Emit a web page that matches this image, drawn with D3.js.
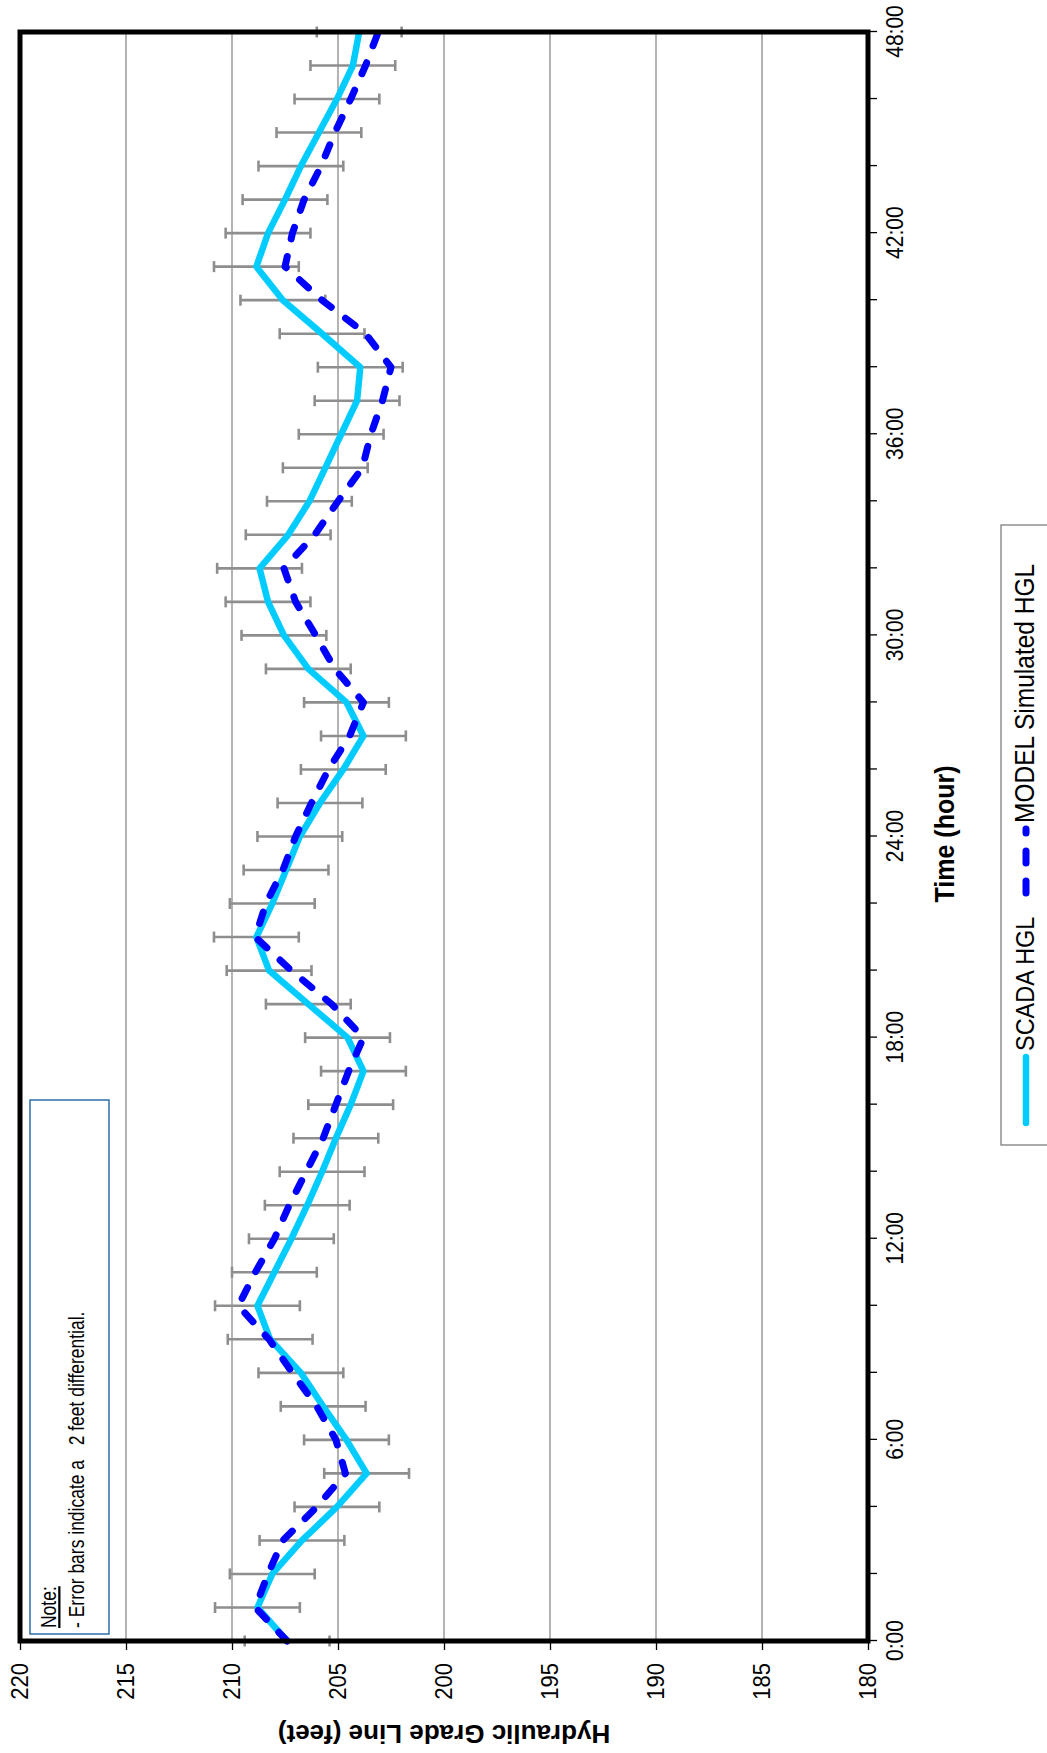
<!DOCTYPE html>
<html><head><meta charset="utf-8">
<script src="https://cdn.jsdelivr.net/npm/d3@7"></script>
<style>body{margin:0;background:#fff;} svg{display:block;font-family:"Liberation Sans",Arial,sans-serif;}</style>
</head><body><svg id="c" width="1047" height="1753"></svg>
<script>
// ---- data ----
const hours = [0,1,2,3,4,5,6,7,8,9,10,11,12,13,14,15,16,17,18,19,20,21,22,23,24,25,26,27,28,29,30,31,32,33,34,35,36,37,38,39,40,41,42,43,44,45,46,47,48];
const scadaHGL = [207.4,208.8,208.1,206.7,205.05,203.65,204.6,205.7,206.75,208.2,208.8,208.0,207.2,206.45,205.75,205.1,204.4,203.8,204.55,206.4,208.25,208.85,208.1,207.45,206.8,205.85,204.75,203.8,204.6,206.4,207.55,208.3,208.7,207.35,206.35,205.6,204.85,204.1,203.95,205.75,207.6,208.85,208.3,207.5,206.75,205.9,205.05,204.3,204.0];
const modelHGL = [207.4,208.9,208.3,207.6,206.0,204.65,205.1,206.0,207.15,208.25,209.7,208.9,208.0,207.3,206.5,205.7,205.1,204.5,203.8,205.3,207.2,208.9,208.4,207.6,207.0,206.25,205.45,204.45,203.8,205.15,206.05,207.0,207.55,206.1,205.0,203.85,203.45,202.9,202.5,203.7,205.75,207.5,207.15,206.6,205.8,205.15,204.4,203.7,203.1];
const errorFeet = 2;
const hglTicks = [180,185,190,195,200,205,210,215,220];
const timeMinorTicks = [0,2,4,6,8,10,12,14,16,18,20,22,24,26,28,30,32,34,36,38,40,42,44,46,48];
const timeMajorTicks = [0,6,12,18,24,30,36,42,48];
const timeLabels = ["0:00","6:00","12:00","18:00","24:00","30:00","36:00","42:00","48:00"];
const seriesNames = ["SCADA HGL","MODEL Simulated HGL"];
const yTitle = "Hydraulic Grade Line (feet)";
const xTitle = "Time (hour)";
const noteLines = ["Note:","- Error bars indicate a   2 feet differential."];

// ---- layout (landscape frame, rotated -90 onto the page) ----
const LW = 1753;
const K = 1.1; // vertical text stretch
const svg = d3.select('#c');
const g = svg.append('g').attr('transform', `translate(0,${LW}) rotate(-90)`);

const x = d3.scaleLinear().domain([0,48]).range([112,1721]);
const y = d3.scaleLinear().domain([180,220]).range([868,20]);

// grid
g.append('g').selectAll('line').data(hglTicks.filter(v => v > 180 && v < 220)).join('line')
  .attr('x1', x(0)).attr('x2', x(48)).attr('y1', d => y(d)).attr('y2', d => y(d))
  .attr('stroke', '#8c8c8c').attr('stroke-width', 1.3);

// note box
const note = g.append('g');
note.append('rect').attr('x', 119).attr('y', 30).attr('width', 534).attr('height', 79)
  .attr('fill', '#fff').attr('stroke', '#2e6ea8').attr('stroke-width', 1.5);
note.append('text').attr('transform', `translate(125,56) scale(1,1.28)`)
  .attr('font-size', 17.5).attr('text-decoration', 'underline').text(noteLines[0]);
note.append('text').attr('transform', `translate(125,84) scale(1,1.28)`)
  .attr('font-size', 17.5).style('white-space', 'pre').text(noteLines[1]);

// error bars
const eb = g.append('g').attr('stroke', '#8e8e8e').attr('stroke-width', 2.6);
hours.forEach((h, i) => {
  const v = scadaHGL[i];
  eb.append('line').attr('x1', x(h)).attr('x2', x(h)).attr('y1', y(v - errorFeet)).attr('y2', y(v + errorFeet));
  [v - errorFeet, v + errorFeet].forEach(e => {
    eb.append('line').attr('x1', x(h) - 5.5).attr('x2', x(h) + 5.5).attr('y1', y(e)).attr('y2', y(e));
  });
});

// lines
const line = d3.line().x(d => x(d[0])).y(d => y(d[1]));
g.append('path').datum(hours.map((h, i) => [h, scadaHGL[i]])).attr('d', line)
  .attr('fill', 'none').attr('stroke', '#00ccff').attr('stroke-width', 6.5).attr('stroke-linejoin', 'round');
g.append('path').datum(hours.map((h, i) => [h, modelHGL[i]])).attr('d', line)
  .attr('fill', 'none').attr('stroke', '#0000ff').attr('stroke-width', 7)
  .attr('stroke-dasharray', '12,18').attr('stroke-linecap', 'round').attr('stroke-linejoin', 'round');

// frame
g.append('rect').attr('x', x(0)).attr('y', y(220)).attr('width', x(48) - x(0)).attr('height', y(180) - y(220))
  .attr('fill', 'none').attr('stroke', '#000').attr('stroke-width', 5);

// y axis
const ya = g.append('g').attr('transform', `translate(${x(0)},0)`)
  .call(d3.axisLeft(y).tickValues(hglTicks).tickSize(9).tickPadding(13).tickFormat(d3.format('d')));
ya.select('.domain').remove();
ya.selectAll('line').attr('stroke', '#000').attr('stroke-width', 1.3);
ya.selectAll('text').attr('font-size', 22).attr('font-family', '"Liberation Sans",Arial,sans-serif')
  .attr('fill', '#000').attr('transform', `scale(1,${K})`);

// x axis
const xa = g.append('g').attr('transform', `translate(0,${y(180)})`)
  .call(d3.axisBottom(x).tickValues(timeMinorTicks).tickSize(9).tickPadding(8)
    .tickFormat(d => { const j = timeMajorTicks.indexOf(d); return j >= 0 ? timeLabels[j] : ''; }));
xa.select('.domain').remove();
xa.selectAll('line').attr('stroke', '#000').attr('stroke-width', 1.3);
xa.selectAll('text').attr('font-size', 21).attr('font-family', '"Liberation Sans",Arial,sans-serif')
  .attr('fill', '#000').attr('transform', `scale(1,${K})`);

// titles
g.append('text').attr('transform', `translate(28,${(y(180) + y(220)) / 2}) rotate(-90)`)
  .attr('text-anchor', 'middle').attr('font-size', 26).attr('font-weight', 'bold').text(yTitle);
g.append('text').attr('transform', `translate(919,954) scale(1,${K})`)
  .attr('text-anchor', 'middle').attr('font-size', 25).attr('font-weight', 'bold').text(xTitle);

// legend
const lg = g.append('g');
lg.append('rect').attr('x', 608).attr('y', 1001).attr('width', 620).attr('height', 80)
  .attr('fill', '#fff').attr('stroke', '#7f7f7f').attr('stroke-width', 1.3);
lg.append('line').attr('x1', 630).attr('x2', 696).attr('y1', 1026).attr('y2', 1026)
  .attr('stroke', '#00ccff').attr('stroke-width', 6.5).attr('stroke-linecap', 'round');
lg.append('text').attr('transform', `translate(702,1034) scale(1,${K})`).attr('font-size', 23.5).text(seriesNames[0]);
lg.append('line').attr('x1', 860).attr('x2', 924).attr('y1', 1026).attr('y2', 1026)
  .attr('stroke', '#0000ff').attr('stroke-width', 7).attr('stroke-dasharray', '12,18').attr('stroke-linecap', 'round');
lg.append('text').attr('transform', `translate(930,1034) scale(1,${K})`).attr('font-size', 24.5).text(seriesNames[1]);
</script></body></html>
